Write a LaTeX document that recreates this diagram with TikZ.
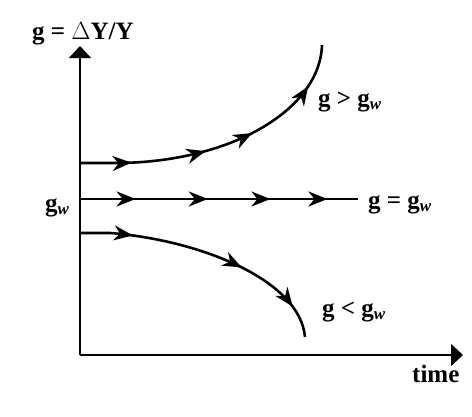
\documentclass[tikz,border=0pt]{standalone}
\usepackage{fontspec}
\setmainfont{Liberation Serif}
\usetikzlibrary{arrows.meta,decorations.markings}
\newcommand{\gsub}{\textbf{g}\raisebox{-3pt}{\fontsize{17}{17}\selectfont\itshape w}}
\tikzset{
  axis/.style={line width=1.5pt, -{Triangle[length=12pt,width=22pt]}},
  flow/.style={line width=2.6pt},
  lbl/.style={font=\fontsize{25}{29}\selectfont\bfseries, inner sep=0pt, anchor=base west},
  flowtip/.tip={Stealth[length=19pt,width=15pt,inset=6pt]}
}
\begin{document}
\begin{tikzpicture}[x=1pt,y=-1pt]
\useasboundingbox (0,0) rectangle (472,416);
\coordinate (O) at (80,355);
\coordinate (ytop) at (80,46);
\coordinate (xend) at (463,355);
\draw[axis] (O) -- (ytop);
\draw[axis] (O) -- (xend);
% middle line
\coordinate (m0) at (80,199);
\coordinate (m1) at (358,199);
\draw[flow,
  postaction={decorate, decoration={markings,
    mark=at position 0.2 with {\arrow{flowtip}},
    mark=at position 0.46 with {\arrow{flowtip}},
    mark=at position 0.685 with {\arrow{flowtip}},
    mark=at position 0.89 with {\arrow{flowtip}}}}]
  (m0) -- (m1);
% top curve
\coordinate (t0) at (80,163);
\coordinate (t1) at (115,163);
\coordinate (t2) at (322,45);
\draw[flow,
  postaction={decorate, decoration={markings,
    mark=at position 0.175 with {\arrow{flowtip}},
    mark=at position 0.43 with {\arrow{flowtip}},
    mark=at position 0.6 with {\arrow{flowtip}},
    mark=at position 0.85 with {\arrow{flowtip}}}}]
  (t0) -- (t1) .. controls (230,163) and (320,110) .. (t2);
% bottom curve
\coordinate (b0) at (80,233);
\coordinate (b1) at (110,233);
\coordinate (b2) at (305,337);
\draw[flow,
  postaction={decorate, decoration={markings,
    mark=at position 0.2 with {\arrow{flowtip}},
    mark=at position 0.63 with {\arrow{flowtip}},
    mark=at position 0.875 with {\arrow{flowtip}}}}]
  (b0) -- (b1) .. controls (200,240) and (300,280) .. (b2);
% labels
\node[lbl] (ylab) at (32,39) {g = {\mdseries\(\Delta\)}Y/Y};
\node[lbl] (gw) at (45,211) {\gsub};
\node[lbl] (gt) at (318,106) {g > \gsub};
\node[lbl] (ge) at (368,208) {g = \gsub};
\node[lbl] (gl) at (322,316) {g < \gsub};
\node[lbl] (tlab) at (412,382) {time};
\end{tikzpicture}
\end{document}
